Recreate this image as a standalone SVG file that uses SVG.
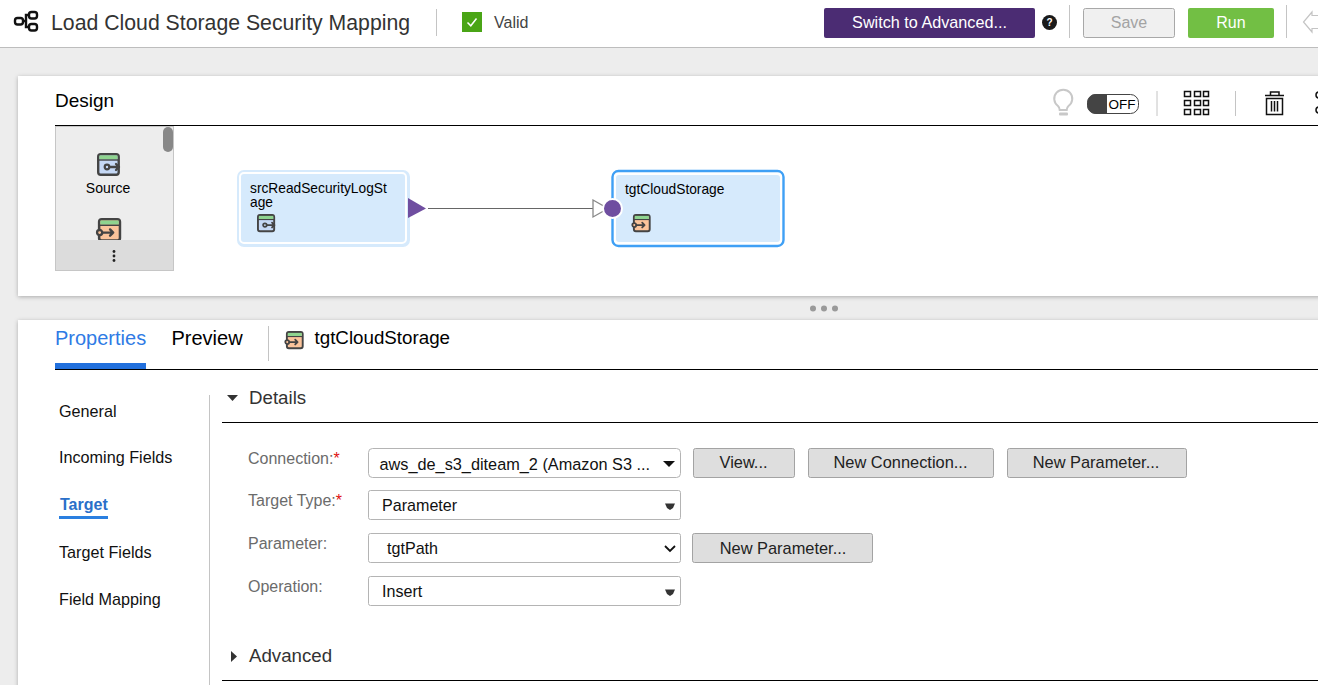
<svg xmlns="http://www.w3.org/2000/svg" width="1318" height="685" viewBox="0 0 1318 685">
<style>
text{font-family:"Liberation Sans",Arial,sans-serif;fill:#000}
.lab{font-size:16px;fill:#6b6b6b}
.nav{font-size:16.200px;fill:#111}
.fld{font-size:16.100px;fill:#111}
.btn{fill:#dedede;stroke:#a3a3a3;stroke-width:1}
.sel{fill:#fff;stroke:#b4b4b4;stroke-width:1}
.btxt{font-size:16.400px;fill:#222;text-anchor:middle}
.sep{stroke:#c4c4c4;stroke-width:1;fill:none}
.rule{stroke:#000;stroke-width:1;fill:none}
.ink{fill:none;stroke:#444;stroke-linecap:round;stroke-linejoin:round}
</style>
<defs>
<filter id="sh" x="-5%" y="-10%" width="110%" height="120%"><feDropShadow dx="0" dy="1" stdDeviation="2.200" flood-color="#000" flood-opacity="0.28"/></filter>
<symbol id="src" viewBox="0 0 24 24" overflow="visible">
<rect x="1.200" y="1.200" width="20.500" height="20.500" rx="2.500" fill="#c5d8f5" stroke="#444" stroke-width="2.400"/>
<rect x="2.400" y="2.400" width="18.100" height="4" fill="#8fd48f"/>
<line x1="1.200" y1="7" x2="21.700" y2="7" stroke="#444" stroke-width="1.400"/>
<circle cx="10" cy="14" r="2.300" fill="#c5d8f5" stroke="#444" stroke-width="2.200"/>
<path d="M12.500 14H22M19 11L22 14L19 17" class="ink" stroke-width="2.300"/>
</symbol>
<symbol id="tgt" viewBox="0 0 24 24" overflow="visible">
<rect x="3" y="1.200" width="20" height="20.500" rx="2.500" fill="#fbc49b" stroke="#444" stroke-width="2.400"/>
<rect x="4.200" y="2.400" width="17.600" height="4" fill="#8fd48f"/>
<line x1="3" y1="7" x2="23" y2="7" stroke="#444" stroke-width="1.400"/>
<circle cx="3.500" cy="14" r="2.500" fill="#fbc49b" stroke="#444" stroke-width="2.200"/>
<path d="M6 14H16.500M13.500 11L16.500 14L13.500 17" class="ink" stroke-width="2.300"/>
</symbol>
</defs>

<rect width="1318" height="685" fill="#ededed"/>

<g id="header">
<rect width="1318" height="47" fill="#fff"/>
<line x1="0" y1="47.500" x2="1318" y2="47.500" stroke="#bdbdbd"/>
<g fill="none" stroke="#111" stroke-width="2.400">
<rect x="15" y="18" width="8" height="6.500" rx="2.500"/>
<rect x="29" y="12" width="8" height="6.500" rx="2.500"/>
<rect x="29" y="24" width="8" height="6.500" rx="2.500"/>
<path d="M23 21H26V15H29M26 21V27H29"/>
</g>
<text x="51" y="30" font-size="21.250" style="fill:#333">Load Cloud Storage Security Mapping</text>
<line class="sep" x1="436.500" y1="9" x2="436.500" y2="36"/>
<rect x="462" y="12" width="20" height="20" fill="#4aa516"/>
<path d="M467.500 22.500L470.800 25.800L476.500 18.500" fill="none" stroke="#fff" stroke-width="1.500"/>
<text x="494" y="28" font-size="16" style="fill:#444">Valid</text>
<rect x="824" y="8" width="211" height="30" rx="2" fill="#4b2c73"/>
<text x="929.500" y="28" font-size="16.200" text-anchor="middle" style="fill:#fff">Switch to Advanced...</text>
<circle cx="1049.500" cy="22.500" r="7.500" fill="#1a1a1a"/>
<text x="1049.500" y="26" font-size="10" font-weight="bold" text-anchor="middle" style="fill:#fff">?</text>
<line class="sep" x1="1069.500" y1="5" x2="1069.500" y2="38"/>
<rect x="1083.500" y="8.500" width="91" height="29" rx="2" fill="#f0f0f0" stroke="#a8a8a8"/>
<text x="1129" y="28" font-size="16" text-anchor="middle" style="fill:#a3a3a3">Save</text>
<rect x="1188" y="8" width="86" height="30" rx="2" fill="#72bf44"/>
<text x="1231" y="28" font-size="16" text-anchor="middle" style="fill:#fff">Run</text>
<line class="sep" x1="1286.500" y1="5" x2="1286.500" y2="38"/>
<path d="M1318 15.500H1312V12L1303.500 22L1312 32V28.500H1318" fill="#fff" stroke="#c4c4c4" stroke-width="1.200"/>
</g>

<g id="design-panel">
<rect x="18" y="76" width="1310" height="220" fill="#fff" filter="url(#sh)"/>
<text x="55" y="107" font-size="19">Design</text>
<line class="rule" x1="55" y1="125.500" x2="1318" y2="125.500"/>
<path d="M1058 106a9 9 0 1 1 10.500 0c-1.200 1-1.700 2-1.800 4h-7c-.1-2-.6-3-1.700-4z" fill="#fff" stroke="#c8c8c8" stroke-width="2"/>
<rect x="1059" y="112.500" width="9" height="3" rx="1" fill="#c8c8c8"/>
<rect x="1087.500" y="94.500" width="51" height="19" rx="8" fill="#fff" stroke="#444"/>
<path d="M1107 94H1096a9 10 0 0 0 0 20H1107z" fill="#444"/>
<text x="1108.500" y="109" font-size="13.500">OFF</text>
<line class="sep" x1="1157" y1="91" x2="1157" y2="116" stroke-width="1.500"/>
<g fill="none" stroke="#111" stroke-width="1.500">
<rect x="1184.500" y="91.500" width="6" height="5"/><rect x="1194.500" y="91.500" width="6" height="5"/><rect x="1203.500" y="91.500" width="5" height="5"/>
<rect x="1184.500" y="100.500" width="6" height="5"/><rect x="1194.500" y="100.500" width="6" height="5"/><rect x="1203.500" y="100.500" width="5" height="5"/>
<rect x="1184.500" y="109.500" width="6" height="5"/><rect x="1194.500" y="109.500" width="6" height="5"/><rect x="1203.500" y="109.500" width="5" height="5"/>
</g>
<line class="sep" x1="1235.500" y1="91" x2="1235.500" y2="116"/>
<g fill="none" stroke="#111" stroke-width="1.500">
<path d="M1265 95.500H1284M1270.500 95V92H1279V95"/>
<path d="M1266.500 98.500H1282.500V114.500H1266.500Z"/>
<path d="M1271.500 101V111.500M1274.500 101V111.500M1277.500 101V111.500"/>
</g>
<g fill="none" stroke="#111" stroke-width="1.500"><circle cx="1319" cy="95" r="3"/><circle cx="1319" cy="110" r="3"/></g>
</g>

<g id="palette">
<rect x="55.500" y="126.500" width="118" height="144" fill="#ededed" stroke="#c6c6c6"/>
<rect x="56" y="240" width="117" height="30" fill="#dcdcdc"/>
<rect x="163" y="127" width="10" height="25" rx="5" fill="#888"/>
<use href="#src" x="97" y="153" width="24" height="24"/>
<text x="108" y="193" font-size="14" text-anchor="middle">Source</text>
<clipPath id="pc"><rect x="56" y="200" width="117" height="40"/></clipPath>
<g clip-path="url(#pc)"><use href="#tgt" x="96" y="218" width="25" height="25"/></g>
<g fill="#222"><circle cx="114" cy="251.500" r="1.400"/><circle cx="114" cy="256" r="1.400"/><circle cx="114" cy="260.500" r="1.400"/></g>
</g>

<g id="connectors">
<line x1="428" y1="208.500" x2="593" y2="208.500" stroke="#666" stroke-width="1.200"/>
<path d="M593 200L608 208.500L593 217Z" fill="#fff" stroke="#888" stroke-width="1.300"/>
</g>

<g id="node-src">
<rect x="238" y="171" width="171" height="75" rx="6" fill="#d6eafc" stroke="#d6eafc" stroke-width="2"/>
<rect x="240" y="173" width="166" height="70" rx="4" fill="#d6eafc" stroke="#fff" stroke-width="2"/>
<text font-size="13.750"><tspan x="250" y="193">srcReadSecurityLogSt</tspan><tspan x="250" y="207">age</tspan></text>
<use href="#src" x="257" y="214" width="19" height="19"/>
<path d="M408 198L426 208.500L408 218Z" fill="#6f4ea0"/>
</g>

<g id="node-tgt">
<rect x="612.500" y="171" width="171" height="75" rx="6" fill="#fff" stroke="#3fa0f5" stroke-width="2.400"/>
<rect x="616" y="175" width="164" height="67" rx="3" fill="#d6eafc"/>
<text x="625" y="194" font-size="13.750">tgtCloudStorage</text>
<use href="#tgt" x="631" y="214" width="20" height="19"/>
<circle cx="612.500" cy="208.500" r="9.500" fill="#6f4ea0" stroke="#fff" stroke-width="2"/>
</g>

<g id="splitter" fill="#9a9a9a"><circle cx="813" cy="308.500" r="3"/><circle cx="824" cy="308.500" r="3"/><circle cx="835" cy="308.500" r="3"/></g>

<g id="properties-panel">
<rect x="18" y="320" width="1310" height="380" fill="#fff" filter="url(#sh)"/>
<text x="55" y="345" font-size="20" style="fill:#2f7be5">Properties</text>
<text x="171.500" y="345" font-size="20">Preview</text>
<line class="sep" x1="268.500" y1="326" x2="268.500" y2="361"/>
<use href="#tgt" x="284" y="331" width="20" height="19"/>
<text x="314.500" y="344" font-size="18.750">tgtCloudStorage</text>
<rect x="55" y="363" width="91" height="6" fill="#2270dd"/>
<line class="rule" x1="55" y1="369.500" x2="1318" y2="369.500"/>
<line class="sep" x1="209.500" y1="395" x2="209.500" y2="685"/>
<text class="nav" x="59" y="417">General</text>
<text class="nav" x="59" y="463">Incoming Fields</text>
<text x="60" y="510" font-size="16" font-weight="bold" style="fill:#2a6fc9">Target</text>
<rect x="59" y="516" width="49" height="3" fill="#2a7fe0"/>
<text class="nav" x="59" y="558">Target Fields</text>
<text class="nav" x="59" y="605">Field Mapping</text>
<path d="M227 395H238L232.500 401Z" fill="#333"/>
<text x="249" y="404" font-size="18.700" style="fill:#333">Details</text>
<line class="rule" x1="222" y1="422.500" x2="1318" y2="422.500"/>
<path d="M231 651V662L237 656.500Z" fill="#333"/>
<text x="249" y="662" font-size="18.700" style="fill:#333">Advanced</text>
<line class="rule" x1="222" y1="680.500" x2="1318" y2="680.500"/>
</g>

<g id="form">
<text class="lab" x="248" y="464">Connection:<tspan style="fill:#e01010">*</tspan></text>
<text class="lab" x="248" y="506">Target Type:<tspan style="fill:#e01010">*</tspan></text>
<text class="lab" x="248" y="549">Parameter:</text>
<text class="lab" x="248" y="592">Operation:</text>

<rect class="sel" x="368.500" y="448.500" width="312" height="29" rx="4"/>
<text x="379.500" y="470" font-size="16.300" style="fill:#111">aws_de_s3_diteam_2 (Amazon S3 ...</text>
<path d="M663 461H675L669 467Z" fill="#111"/>

<rect class="sel" x="368.500" y="490.500" width="312" height="29" rx="2"/>
<text class="fld" x="382" y="511">Parameter</text>
<path d="M665 503.500H675L673 508L670 510L667 508Z" fill="#333"/>

<rect class="sel" x="368.500" y="533.500" width="312" height="29" rx="2"/>
<text class="fld" x="387" y="554">tgtPath</text>
<path d="M665 546L670 551L675 546" fill="none" stroke="#111" stroke-width="1.800"/>

<rect class="sel" x="368.500" y="576.500" width="312" height="29" rx="2"/>
<text class="fld" x="382" y="597">Insert</text>
<path d="M665 589.500H675L673 594L670 596L667 594Z" fill="#333"/>

<rect class="btn" x="693.500" y="448.500" width="101" height="29" rx="2"/>
<text class="btxt" x="743.500" y="468">View...</text>
<rect class="btn" x="808.500" y="448.500" width="185" height="29" rx="2"/>
<text class="btxt" x="900.500" y="468">New Connection...</text>
<rect class="btn" x="1007.500" y="448.500" width="179" height="29" rx="2"/>
<text class="btxt" x="1096" y="468">New Parameter...</text>
<rect class="btn" x="692.500" y="533.500" width="180" height="29" rx="2"/>
<text class="btxt" x="783" y="554">New Parameter...</text>
</g>
</svg>
